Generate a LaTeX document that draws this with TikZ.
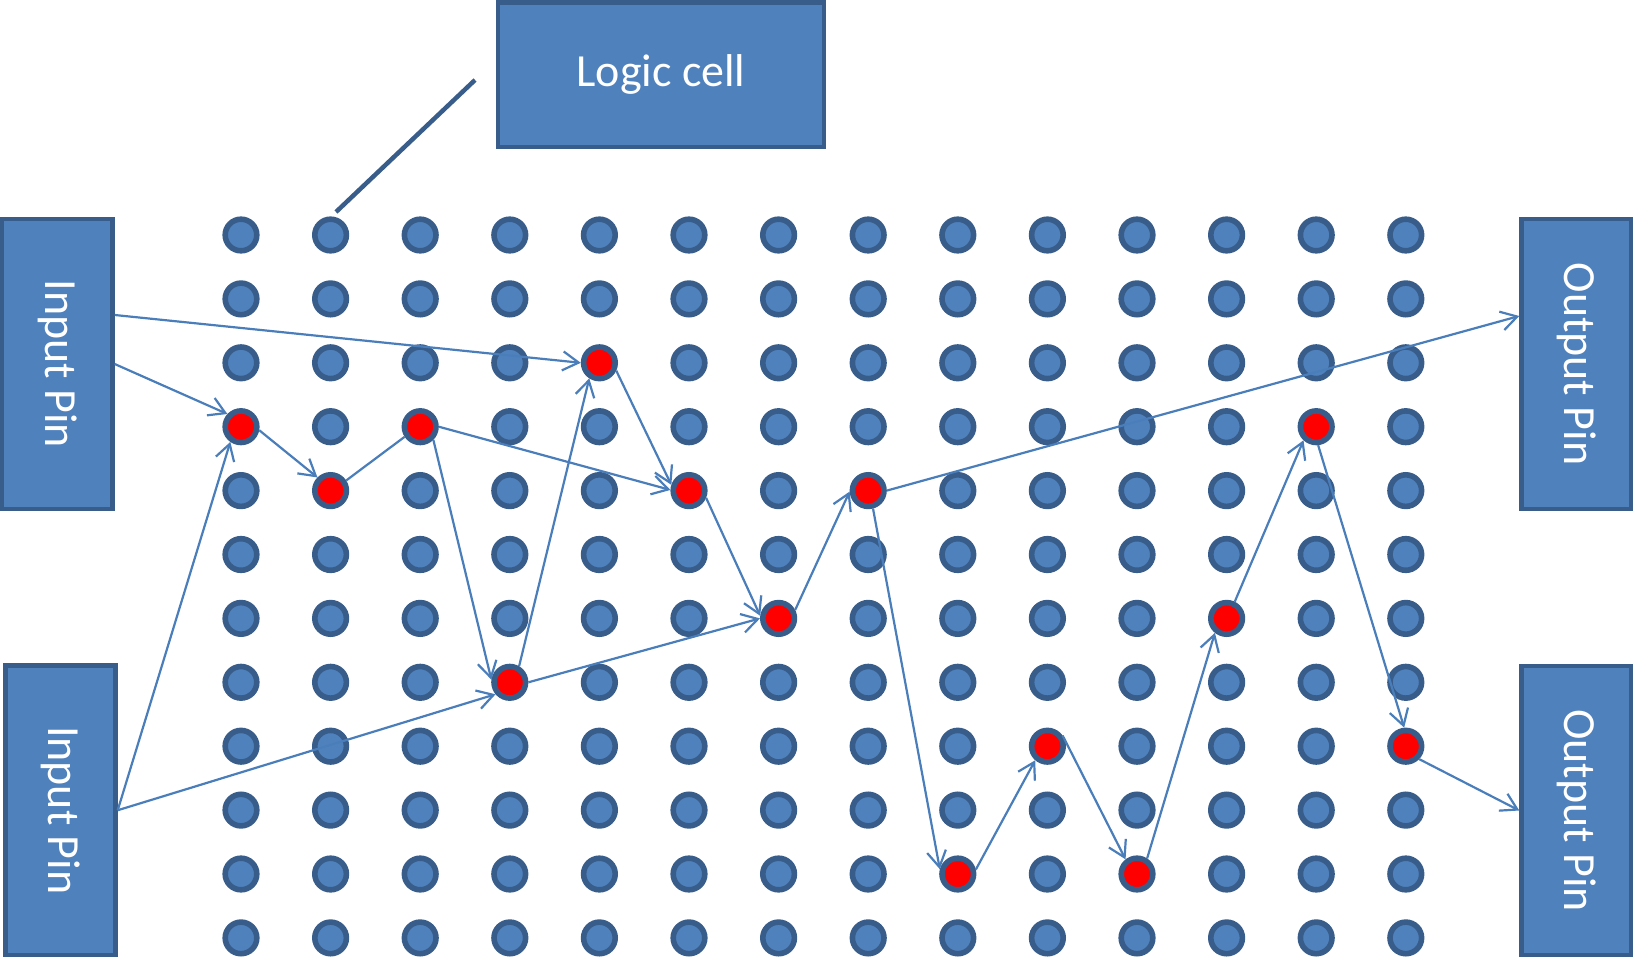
\documentclass[tikz,border=0pt]{standalone}
\usepackage{fontspec}
\setmainfont{Carlito}
\usepackage{graphicx}
\usetikzlibrary{arrows.meta}

\definecolor{cellblue}{HTML}{4F81BD}
\definecolor{celledge}{HTML}{385D8A}
\definecolor{wire}{HTML}{4A7EBB}
\definecolor{pathred}{HTML}{FF0000}

\tikzset{
  dot/.style={circle, draw=celledge, line width=5.6pt, minimum size=31.6pt, inner sep=0pt},
  blockbox/.style={rectangle, draw=celledge, fill=cellblue, line width=4.4pt, inner sep=0pt,
    text=white, font=\fontsize{46}{55}\selectfont},
  route/.style={draw=wire, line width=2.2pt, -{Straight Barb[length=16pt,width=19pt]}},
  link/.style={draw=wire, line width=2.2pt},
  leader/.style={draw=celledge, line width=4.5pt},
}

% cells that lie on the routed path
\foreach \p in {0-3,1-4,2-3,4-2,5-4,3-7,6-6,7-4,8-10,9-8,10-10,11-6,12-3,13-8}{%
  \expandafter\gdef\csname hot-\p\endcsname{}}

\begin{document}
\begin{tikzpicture}[x=1pt, y=-1pt]
\useasboundingbox (0,0) rectangle (1633,960);

% I/O blocks and the logic cell label
\node[blockbox, minimum width=110.5pt, minimum height=290pt] (inA) at (57.25,364)
  {\rotatebox[origin=c]{-90}{Input Pin}};
\node[blockbox, minimum width=110pt, minimum height=289.5pt] (inB) at (60.5,810.25)
  {\rotatebox[origin=c]{-90}{Input Pin}};
\node[blockbox, minimum width=109.5pt, minimum height=290pt] (outA) at (1576.25,364)
  {\rotatebox[origin=c]{-90}{Output Pin}};
\node[blockbox, minimum width=109.5pt, minimum height=289pt] (outB) at (1576.25,810.5)
  {\rotatebox[origin=c]{-90}{Output Pin}};
\node[blockbox, minimum width=326pt, minimum height=144.5pt] (logic) at (661,74.75) {Logic cell};

% callout line pointing at one cell
\coordinate (lead-a) at (475,80);
\coordinate (lead-b) at (336,212);
\draw[leader] (lead-a) -- (lead-b);

% grid of logic cells
\foreach \i in {0,...,13}{
  \foreach \j in {0,...,11}{
    \ifcsname hot-\i-\j\endcsname\def\cellfill{pathred}\else\def\cellfill{cellblue}\fi
    \node[dot, fill=\cellfill] (d-\i-\j) at ({241+89.6*\i},{235+63.9*\j}) {};
  }
}

% pin taps
\coordinate (inA-hi) at ([yshift=49pt]inA.east);
\coordinate (outA-hi) at ([yshift=48pt]outA.west);

% routed connections
\draw[route] (inA-hi) -- (d-4-2.180);
\draw[route] (inA.east) -- (d-0-3.137);
\draw[route] (d-0-3.-11) -- (d-1-4.135);
\draw[link]  (d-1-4.33) -- (d-2-3.213);
\draw[route] (d-2-3.0) -- (d-5-4.178);
\draw[route] (d-2-3.-45) -- (d-3-7.172);
\draw[route] (d-3-7.60) -- (d-4-2.237);
\draw[route] (d-4-2.-25) -- (d-5-4.162);
\draw[route] (d-5-4.-23) -- (d-6-6.172);
\draw[route] (inB.east) -- (d-0-3.235);
\draw[route] (inB.east) -- (d-3-7.220);
\draw[route] (d-3-7.0) -- (d-6-6.180);
\draw[route] (d-6-6.27) -- (d-7-4.183);
\draw[route] (d-7-4.0) -- (outA-hi);
\draw[route] (d-7-4.-75) -- (d-8-10.165);
\draw[route] (d-8-10.14) -- (d-9-8.229);
\draw[route] (d-9-8.35) -- (d-10-10.128);
\draw[route] (d-10-10.57) -- (d-11-6.231);
\draw[route] (d-11-6.64) -- (d-12-3.227);
\draw[route] (d-12-3.-84) -- (d-13-8.95);
\draw[route] (d-13-8.-44) -- (outB.west);
\end{tikzpicture}
\end{document}
